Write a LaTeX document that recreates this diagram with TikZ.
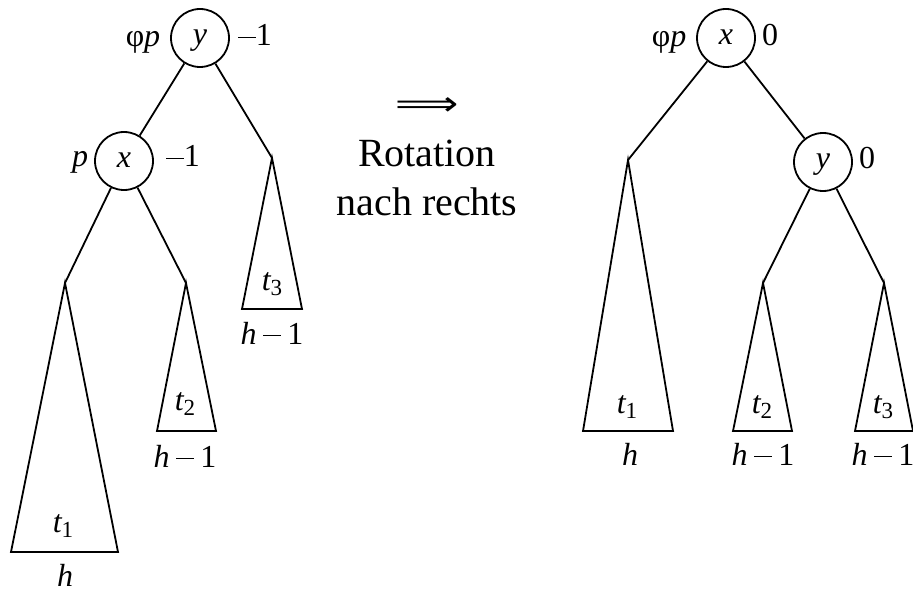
\documentclass[tikz,border=0pt]{standalone}
\usepackage{fontspec}
\setmainfont{Liberation Serif}[ItalicFont={Liberation Serif Italic}]
\newfontfamily\dejavu{DejaVu Sans}
\usepackage{graphicx}
\newcommand\ital[1]{{\itshape #1}}
\newcommand\subs[1]{\raisebox{-0.35ex}{\scalebox{0.72}{#1}}}
\newcommand\minus{\rule[0.24em]{0.56em}{0.055em}}
\newcommand\hmo{\ital{h}\hspace{0.2em}\minus\hspace{0.2em}1}
\newcommand\tsub[1]{\ital{t}\subs{#1}}
\begin{document}
\begin{tikzpicture}[x=0.5pt,y=-0.5pt, line width=0.9pt,
  knot/.style={draw, circle, minimum size=29pt, inner sep=0pt, text height=7pt, text depth=0pt, font=\fontsize{16}{19}\selectfont\itshape},
  lab/.style={font=\fontsize{16}{19}\selectfont, inner sep=0pt, anchor=base},
  big/.style={font=\fontsize{20}{24}\selectfont, inner sep=0pt, anchor=base},
  tri/.style={draw, line join=miter}
]
\useasboundingbox (0,0) rectangle (913,593);
% left tree
\node[knot] (ly) at (200,38) {y};
\node[knot] (lx) at (124,161) {x};
\coordinate (la1) at (65,283);
\coordinate (la2) at (186,283);
\coordinate (la3) at (272,158);
\draw (ly) -- (lx);
\draw (ly) -- (la3);
\draw (lx) -- (la1);
\draw (lx) -- (la2);
\draw[tri] (la1) -- (11,552) -- (118,552) -- cycle;
\draw[tri] (la2) -- (157,431) -- (216,431) -- cycle;
\draw[tri] (la3) -- (242,309) -- (302,309) -- cycle;
\node[lab] (lyl) at (143,47) {φ\ital{p}};
\node[lab] (lyr) at (255,46) {\minus1};
\node[lab] (lxl) at (80,167) {\ital{p}};
\node[lab] (lxr) at (183,167) {\minus1};
\node[lab] (lt1) at (63,532) {\tsub{1}};
\node[lab] (lt2) at (185,410) {\tsub{2}};
\node[lab] (lt3) at (272,290) {\tsub{3}};
\node[lab] (lh1) at (65,586) {\ital{h}};
\node[lab] (lh2) at (185,467) {\hmo};
\node[lab] (lh3) at (272,344) {\hmo};
% middle
\node[inner sep=0pt, font=\dejavu\fontsize{17}{20}\selectfont] (arr) at (427,107) {\scalebox{1.3}[1]{⟹}};
\node[big] (rot) at (427,167) {Rotation};
\node[big] (nr) at (427,215) {nach rechts};
% right tree
\node[knot] (rx) at (726,38) {x};
\node[knot] (ry) at (823,162) {y};
\coordinate (ra1) at (628,160);
\coordinate (ra2) at (763,283);
\coordinate (ra3) at (884,283);
\draw (rx) -- (ra1);
\draw (rx) -- (ry);
\draw (ry) -- (ra2);
\draw (ry) -- (ra3);
\draw[tri] (ra1) -- (583,431) -- (673,431) -- cycle;
\draw[tri] (ra2) -- (733,431) -- (792,431) -- cycle;
\draw[tri] (ra3) -- (855,431) -- (913,431) -- cycle;
\node[lab] (rxl) at (669,47) {φ\ital{p}};
\node[lab] (rxr) at (770,46) {0};
\node[lab] (ryr) at (867,169) {0};
\node[lab] (rt1) at (627,413) {\tsub{1}};
\node[lab] (rt2) at (762,413) {\tsub{2}};
\node[lab] (rt3) at (883,413) {\tsub{3}};
\node[lab] (rh1) at (630,465) {\ital{h}};
\node[lab] (rh2) at (763,465) {\hmo};
\node[lab] (rh3) at (883,465) {\hmo};
\end{tikzpicture}
\end{document}
